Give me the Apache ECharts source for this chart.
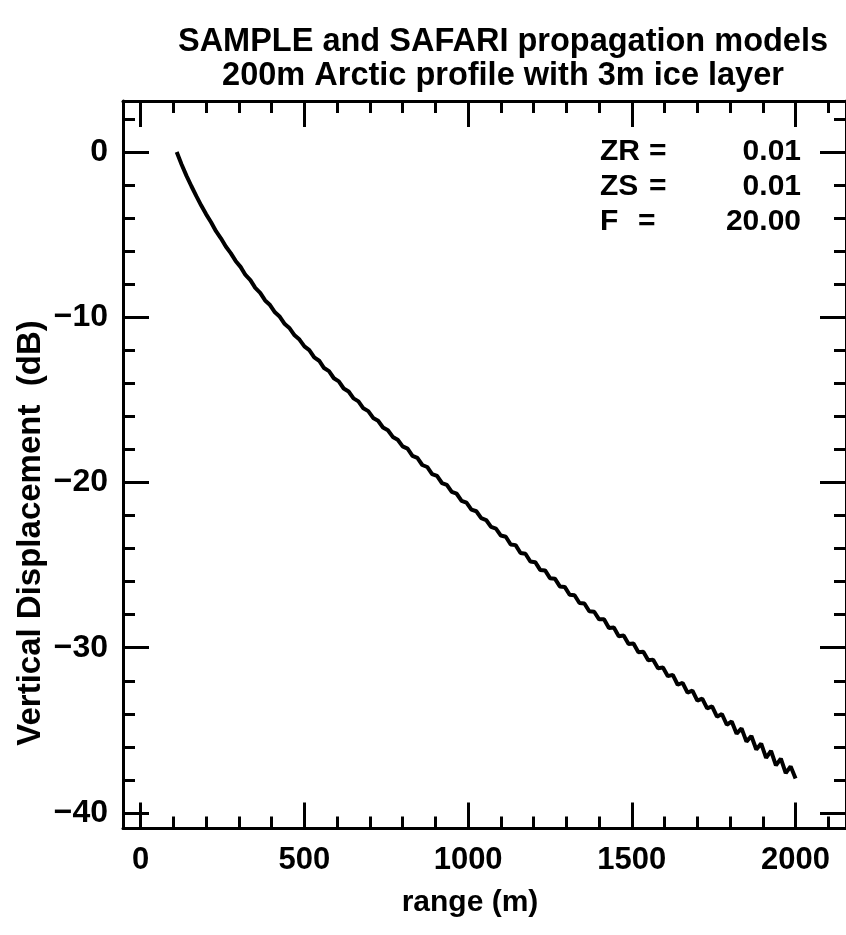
<!DOCTYPE html>
<html>
<head>
<meta charset="utf-8">
<script src="https://cdn.jsdelivr.net/npm/echarts/dist/echarts.min.js"></script>
<style>
  html, body { margin: 0; padding: 0; background: #fff; overflow: hidden; }
  #chart { width: 846px; height: 935px; }
</style>
</head>
<body>
<div id="chart"></div>
<script>
// range (m), sampled every 15 m
const rangeM = [
  110, 125, 140, 155, 170, 185, 200, 215, 230, 245, 260, 275, 290, 305, 320, 335,
  350, 365, 380, 395, 410, 425, 440, 455, 470, 485, 500, 515, 530, 545, 560, 575,
  590, 605, 620, 635, 650, 665, 680, 695, 710, 725, 740, 755, 770, 785, 800, 815,
  830, 845, 860, 875, 890, 905, 920, 935, 950, 965, 980, 995, 1010, 1025, 1040, 1055,
  1070, 1085, 1100, 1115, 1130, 1145, 1160, 1175, 1190, 1205, 1220, 1235, 1250, 1265, 1280, 1295,
  1310, 1325, 1340, 1355, 1370, 1385, 1400, 1415, 1430, 1445, 1460, 1475, 1490, 1505, 1520, 1535,
  1550, 1565, 1580, 1595, 1610, 1625, 1640, 1655, 1670, 1685, 1700, 1715, 1730, 1745, 1760, 1775,
  1790, 1805, 1820, 1835, 1850, 1865, 1880, 1895, 1910, 1925, 1940, 1955, 1970, 1985, 2000
];

// vertical displacement (dB)
const displacementDb = [
  0.00, -0.75, -1.44, -2.07, -2.67, -3.24, -3.77, -4.25, -4.79, -5.22, -5.72, -6.12, -6.59, -6.95, -7.44, -7.75,
  -8.22, -8.52, -8.98, -9.26, -9.70, -9.97, -10.41, -10.67, -11.09, -11.35, -11.76, -11.99, -12.43, -12.63, -13.07, -13.26,
  -13.69, -13.88, -14.31, -14.49, -14.91, -15.09, -15.51, -15.68, -16.09, -16.26, -16.67, -16.84, -17.24, -17.41, -17.81, -17.95,
  -18.39, -18.51, -18.94, -19.06, -19.49, -19.60, -20.03, -20.14, -20.57, -20.68, -21.11, -21.22, -21.64, -21.74, -22.16, -22.27,
  -22.69, -22.79, -23.21, -23.28, -23.75, -23.79, -24.27, -24.31, -24.78, -24.82, -25.29, -25.32, -25.79, -25.82, -26.29, -26.32,
  -26.79, -26.82, -27.29, -27.32, -27.79, -27.82, -28.28, -28.28, -28.81, -28.78, -29.30, -29.26, -29.78, -29.75, -30.27, -30.24,
  -30.76, -30.72, -31.24, -31.20, -31.72, -31.64, -32.24, -32.12, -32.72, -32.60, -33.20, -33.08, -33.67, -33.55, -34.17, -34.01,
  -34.66, -34.46, -35.20, -34.88, -35.68, -35.34, -36.16, -35.80, -36.66, -36.24, -37.12, -36.71, -37.59, -37.18, -37.92
];

// axis ticks
const xMajorTicks = [0, 500, 1000, 1500, 2000];
const xMinorTicks = [0, 100, 200, 300, 400, 500, 600, 700, 800, 900, 1000,
  1100, 1200, 1300, 1400, 1500, 1600, 1700, 1800, 1900, 2000, 2100];
const yMajorTicks = [0, -10, -20, -30, -40];
const yMinorTicks = [2, 0, -2, -4, -6, -8, -10, -12, -14, -16, -18, -20,
  -22, -24, -26, -28, -30, -32, -34, -36, -38, -40];

// ZR / ZS / F box
const paramNames = ['ZR', 'ZS', 'F'];
const paramValues = ['0.01', '0.01', '20.00'];

const FONT = 'Liberation Sans, Helvetica, Arial, sans-serif';
const X_MIN = -54, X_MAX = 2154;
const Y_MIN = -40.94, Y_MAX = 3.09;

const chart = echarts.init(document.getElementById('chart'), null, { renderer: 'canvas' });

/** one axis of the frame: major or minor ticks, drawn inward */
const frameAxis = (type, position, ticks, major, withLabel) => {
  const isX = type === 'x';
  return {
    type: 'value',
    position: position,
    min: isX ? X_MIN : Y_MIN,
    max: isX ? X_MAX : Y_MAX,
    axisLine: { show: major, onZero: false, lineStyle: { color: '#000', width: 3 } },
    axisTick: {
      show: true,
      inside: true,
      length: major ? 26 : 12,
      customValues: ticks,
      lineStyle: { color: '#000', width: 3 },
    },
    axisLabel: {
      show: withLabel,
      customValues: ticks,
      color: '#000',
      fontFamily: FONT,
      fontWeight: 'bold',
      fontSize: isX ? 31 : 32,
      margin: isX ? 16 : 15,
      // plain numbers, wide minus sign like the original
      formatter: (v) => (v < 0 ? '\u2212' + (-v) : String(v)),
    },
    splitLine: { show: false },
  };
};

const paramGraphics = [];
paramNames.forEach((name, i) => {
  const y = 152 + i * 35;
  const textStyle = { fontFamily: FONT, fontWeight: 'bold', fontSize: 30, fill: '#000', verticalAlign: 'middle' };
  paramGraphics.push({
    type: 'text', x: 600, y: y,
    style: { ...textStyle, text: name, align: 'left' },
  });
  paramGraphics.push({
    type: 'text', x: name === 'F' ? 638 : 649, y: y,
    style: { ...textStyle, text: '=', align: 'left' },
  });
  paramGraphics.push({
    type: 'text', x: 801, y: y,
    style: { ...textStyle, text: paramValues[i], align: 'right' },
  });
});

const option = {
  animation: false,
  backgroundColor: '#fff',
  title: {
    text: 'SAMPLE and SAFARI propagation models\n200m Arctic profile with 3m ice layer',
    left: 498,
    top: 20,
    textAlign: 'center',
    textStyle: {
      fontFamily: FONT, fontWeight: 'bold', fontSize: 32.5, lineHeight: 34, color: '#000',
    },
  },
  grid: { left: 123, top: 101, width: 729, height: 727.5, containLabel: false },
  xAxis: [
    frameAxis('x', 'bottom', xMajorTicks, true, true),
    frameAxis('x', 'bottom', xMinorTicks, false, false),
    frameAxis('x', 'top', xMajorTicks, true, false),
    frameAxis('x', 'top', xMinorTicks, false, false),
  ],
  yAxis: [
    frameAxis('y', 'left', yMajorTicks, true, true),
    frameAxis('y', 'left', yMinorTicks, false, false),
    frameAxis('y', 'right', yMajorTicks, true, false),
    frameAxis('y', 'right', yMinorTicks, false, false),
  ],
  graphic: [
    {
      type: 'text',
      x: 31, y: 533,
      rotation: Math.PI / 2,
      style: {
        text: 'Vertical Displacement  (dB)', fontFamily: FONT, fontWeight: 'bold', fontSize: 33,
        fill: '#000', align: 'center', verticalAlign: 'middle',
      },
    },
    {
      type: 'text',
      x: 470, y: 903,
      style: {
        text: 'range (m)', fontFamily: FONT, fontWeight: 'bold', fontSize: 30,
        fill: '#000', align: 'center', verticalAlign: 'middle',
      },
    },
    ...paramGraphics,
  ],
  series: [
    {
      type: 'line',
      xAxisIndex: 0,
      yAxisIndex: 0,
      showSymbol: false,
      smooth: false,
      lineStyle: { color: '#000', width: 4 },
      data: rangeM.map((r, i) => [r, displacementDb[i]]),
    },
  ],
};
chart.setOption(option);
</script>
</body>
</html>
